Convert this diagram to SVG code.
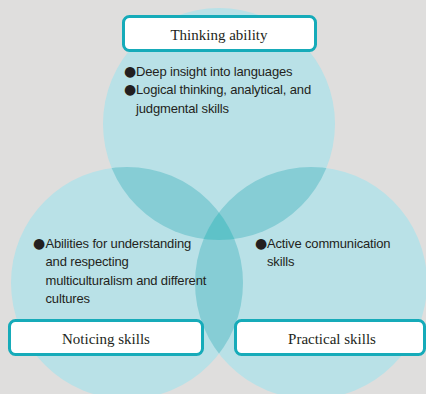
<svg xmlns="http://www.w3.org/2000/svg" width="426" height="394" viewBox="0 0 426 394">
  <style>
    .bg { fill: #dfdedd; }
    .set { fill: #b9e1e7; }
    .two { fill: #86cdd5; }
    .three { fill: #5ec2c8; }
    .box { fill: #ffffff; stroke: #16abb9; stroke-width: 3; }
    .label { font-family: "Liberation Serif", "DejaVu Serif", serif; font-size: 15px; fill: #231f20; text-anchor: middle; }
    .body { font-family: "Liberation Sans", Arial, sans-serif; font-size: 13px; letter-spacing: -0.15px; fill: #231f20; }
    .dot { font-family: "DejaVu Sans", sans-serif; font-size: 14px; letter-spacing: 0; }
  </style>
  <defs>
    <clipPath id="clipT"><circle cx="219" cy="124" r="116"/></clipPath>
    <clipPath id="clipL"><circle cx="127" cy="283" r="116"/></clipPath>
    <clipPath id="clipR"><circle cx="311" cy="283" r="116"/></clipPath>
  </defs>
  <rect class="bg" x="0" y="0" width="426" height="394"/>
  <g id="venn">
    <circle class="set" cx="219" cy="124" r="116"/>
    <circle class="set" cx="127" cy="283" r="116"/>
    <circle class="set" cx="311" cy="283" r="116"/>
    <circle class="two" cx="127" cy="283" r="116" clip-path="url(#clipT)"/>
    <circle class="two" cx="311" cy="283" r="116" clip-path="url(#clipT)"/>
    <circle class="two" cx="311" cy="283" r="116" clip-path="url(#clipL)"/>
    <g clip-path="url(#clipT)">
      <circle class="three" cx="311" cy="283" r="116" clip-path="url(#clipL)"/>
    </g>
  </g>
  <g id="thinking">
    <rect class="box" x="123.5" y="16.5" width="192" height="34" rx="6"/>
    <text class="label" x="219" y="40">Thinking ability</text>
    <text class="body" x="124" y="75.5"><tspan class="dot">●</tspan><tspan x="136">Deep insight into languages</tspan></text>
    <text class="body" x="124" y="94"><tspan class="dot">●</tspan><tspan x="136">Logical thinking, analytical, and</tspan></text>
    <text class="body" x="136" y="112.5">judgmental skills</text>
  </g>
  <g id="noticing">
    <rect class="box" x="9.5" y="320.5" width="193" height="34" rx="6"/>
    <text class="label" x="106" y="343.5">Noticing skills</text>
    <text class="body" x="33" y="247.5"><tspan class="dot">●</tspan><tspan x="45.5">Abilities for understanding</tspan></text>
    <text class="body" x="45.5" y="266">and respecting</text>
    <text class="body" x="45.5" y="284.5">multiculturalism and different</text>
    <text class="body" x="45.5" y="303">cultures</text>
  </g>
  <g id="practical">
    <rect class="box" x="235.5" y="320.5" width="189" height="34" rx="6"/>
    <text class="label" x="332" y="343.5">Practical skills</text>
    <text class="body" x="255" y="247.5"><tspan class="dot">●</tspan><tspan x="267">Active communication</tspan></text>
    <text class="body" x="267" y="266">skills</text>
  </g>
</svg>
